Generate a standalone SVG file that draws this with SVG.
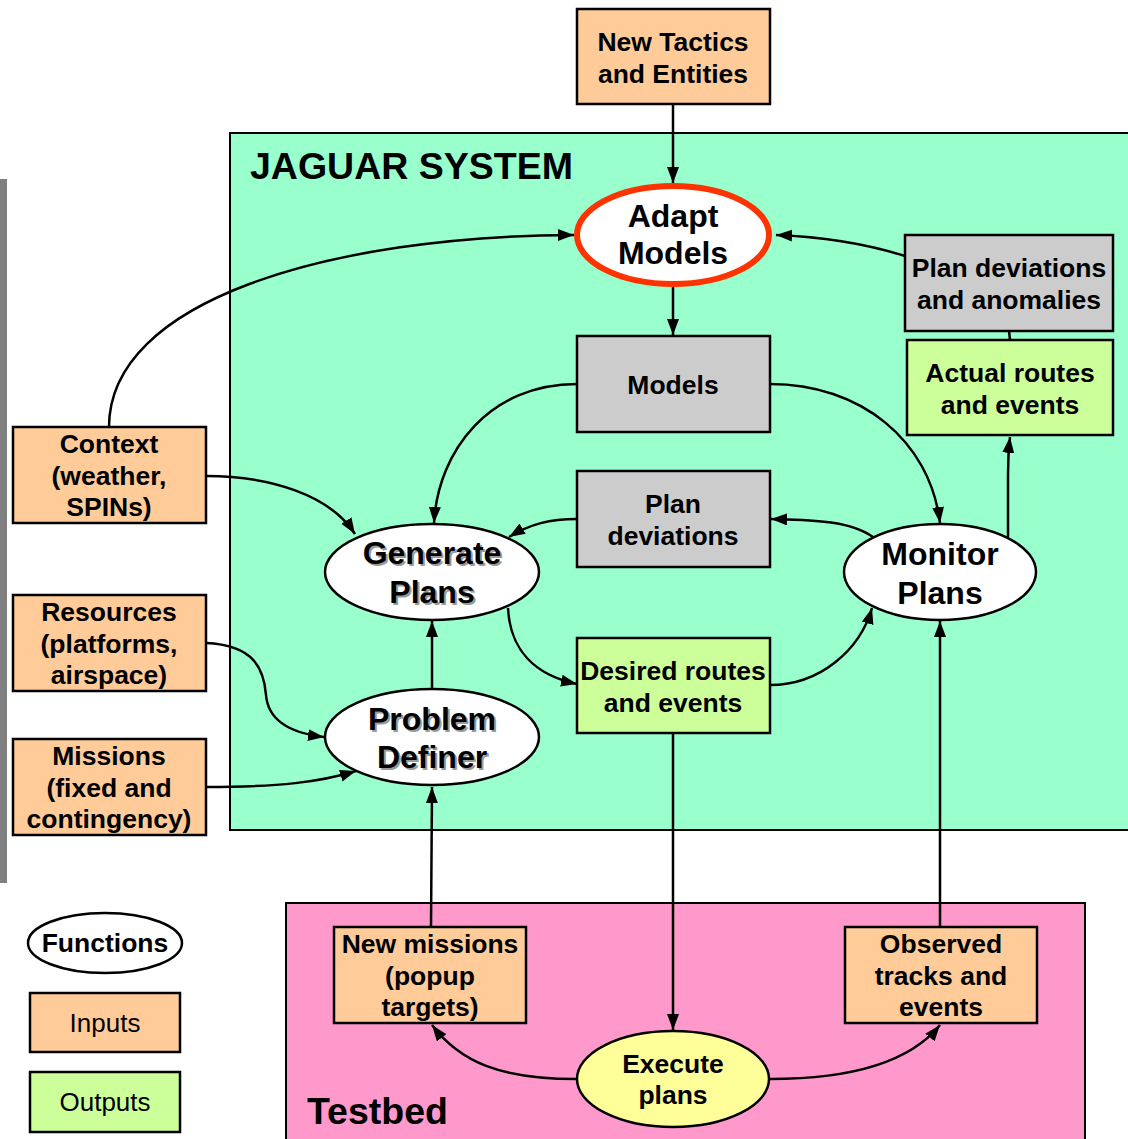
<svg xmlns="http://www.w3.org/2000/svg" width="1128" height="1139" viewBox="0 0 1128 1139">
<style>
text{font-family:"Liberation Sans",Arial,sans-serif;font-weight:bold;fill:#000;text-anchor:middle}
.box{stroke:#000;stroke-width:2.5}
.in{fill:#FFCC99}
.out{fill:#CCFF99}
.gray{fill:#CCCCCC}
.ell{fill:#fff;stroke:#000;stroke-width:2.5}
.t26{font-size:26.5px}
.t31{font-size:32px}
.sh{fill:#9a9a9a}
.c{fill:none;stroke:#000;stroke-width:2.5}
.a{marker-end:url(#arr)}
.leg{font-size:26px;font-weight:normal}
</style>
<defs>
<marker id="arr" markerUnits="userSpaceOnUse" markerWidth="18" markerHeight="14" refX="16" refY="6" orient="auto">
<path d="M0,0 L16,6 L0,12 z" fill="#000"/>
</marker>
</defs>
<rect width="1128" height="1139" fill="#fff"/>
<rect x="0" y="179" width="7" height="704" fill="#808080"/>
<g id="jaguar-system">
<rect x="230" y="133" width="905" height="697" fill="#99FFCC" stroke="#000" stroke-width="2"/>
<text x="250" y="179" style="font-size:37.5px;text-anchor:start">JAGUAR SYSTEM</text>
</g>
<g id="testbed">
<rect x="286" y="903" width="799" height="245" fill="#FF99CC" stroke="#000" stroke-width="2"/>
<text x="307" y="1124" style="font-size:37.5px;text-anchor:start">Testbed</text>
</g>
<g id="connectors">
<path class="c a" d="M673,104 L673,183"/>
<path class="c a" d="M109,427 C109,300 330,236 574,235"/>
<path class="c a" d="M905,256 C870,245 830,237 776,235"/>
<path class="c a" d="M673,286 L673,335"/>
<path class="c a" d="M577,384 C490,384 438,450 434,523"/>
<path class="c a" d="M770,384 C860,384 930,440 940,523"/>
<path class="c a" d="M1008,537 L1008,475 Q1008,455 1010,437"/>
<path class="c a" d="M873,537 C850,520 810,520 771,519"/>
<path class="c a" d="M577,519 C550,519 530,524 509,537"/>
<path class="c a" d="M206,476 C270,476 330,495 355,534"/>
<path class="c a" d="M508,608 C510,650 535,675 577,684"/>
<path class="c a" d="M770,685 C820,685 860,650 872,608"/>
<path class="c a" d="M432,689 L432,621"/>
<path class="c a" d="M206,643 C255,645 264,670 266,695 C268,720 290,733 324,737"/>
<path class="c a" d="M206,787 C280,787 320,782 356,771"/>
<path class="c a" d="M431,927 L432,787"/>
<path class="c a" d="M673,733 L673,1030"/>
<path class="c a" d="M940,927 L940,621"/>
<path class="c a" d="M577,1079 C500,1079 460,1062 432,1025"/>
<path class="c a" d="M770,1079 C850,1079 910,1062 940,1025"/>
<path class="c" d="M1009,331 L1010,340"/>
</g>
<g id="new-tactics">
<rect class="box in" x="577" y="9" width="193" height="95"/>
<text class="t26" x="673" y="51">New Tactics</text>
<text class="t26" x="673" y="83">and Entities</text>
</g>
<g id="adapt-models">
<ellipse cx="673" cy="235" rx="96" ry="49" fill="#fff" stroke="#FF3300" stroke-width="6"/>
<text class="t31" x="673" y="227">Adapt</text>
<text class="t31" x="673" y="264">Models</text>
</g>
<g id="plan-deviations-anomalies">
<rect class="box gray" x="905" y="235" width="208" height="96"/>
<text class="t26" x="1009" y="277">Plan deviations</text>
<text class="t26" x="1009" y="309">and anomalies</text>
</g>
<g id="actual-routes">
<rect class="box out" x="907" y="340" width="206" height="95"/>
<text class="t26" x="1010" y="382">Actual routes</text>
<text class="t26" x="1010" y="414">and events</text>
</g>
<g id="models">
<rect class="box gray" x="577" y="336" width="193" height="96"/>
<text class="t26" x="673" y="394">Models</text>
</g>
<g id="plan-deviations">
<rect class="box gray" x="577" y="471" width="193" height="96"/>
<text class="t26" x="673" y="513">Plan</text>
<text class="t26" x="673" y="545">deviations</text>
</g>
<g id="desired-routes">
<rect class="box out" x="577" y="638" width="193" height="95"/>
<text class="t26" x="673" y="680">Desired routes</text>
<text class="t26" x="673" y="712">and events</text>
</g>
<g id="generate-plans">
<ellipse class="ell" cx="432" cy="572" rx="107" ry="48"/>
<text class="t31 sh" x="434" y="566">Generate</text>
<text class="t31 sh" x="434" y="605">Plans</text>
<text class="t31" x="432" y="564">Generate</text>
<text class="t31" x="432" y="603">Plans</text>
</g>
<g id="monitor-plans">
<ellipse class="ell" cx="940" cy="572" rx="96" ry="48"/>
<text class="t31" x="940" y="565">Monitor</text>
<text class="t31" x="940" y="604">Plans</text>
</g>
<g id="problem-definer">
<ellipse class="ell" cx="432" cy="737" rx="107" ry="48"/>
<text class="t31 sh" x="434" y="732">Problem</text>
<text class="t31 sh" x="434" y="770">Definer</text>
<text class="t31" x="432" y="730">Problem</text>
<text class="t31" x="432" y="768">Definer</text>
</g>
<g id="context">
<rect class="box in" x="13" y="427" width="193" height="96"/>
<text class="t26" x="109" y="453">Context</text>
<text class="t26" x="109" y="485">(weather,</text>
<text class="t26" x="109" y="516">SPINs)</text>
</g>
<g id="resources">
<rect class="box in" x="13" y="595" width="193" height="96"/>
<text class="t26" x="109" y="621">Resources</text>
<text class="t26" x="109" y="653">(platforms,</text>
<text class="t26" x="109" y="684">airspace)</text>
</g>
<g id="missions">
<rect class="box in" x="13" y="739" width="193" height="96"/>
<text class="t26" x="109" y="765">Missions</text>
<text class="t26" x="109" y="797">(fixed and</text>
<text class="t26" x="109" y="828">contingency)</text>
</g>
<g id="new-missions">
<rect class="box in" x="334" y="927" width="192" height="96"/>
<text class="t26" x="430" y="953">New missions</text>
<text class="t26" x="430" y="985">(popup</text>
<text class="t26" x="430" y="1016">targets)</text>
</g>
<g id="observed">
<rect class="box in" x="845" y="927" width="192" height="96"/>
<text class="t26" x="941" y="953">Observed</text>
<text class="t26" x="941" y="985">tracks and</text>
<text class="t26" x="941" y="1016">events</text>
</g>
<g id="execute-plans">
<ellipse cx="673" cy="1079" rx="96" ry="48" fill="#FFFF99" stroke="#000" stroke-width="2.5"/>
<text class="t26" x="673" y="1073">Execute</text>
<text class="t26" x="673" y="1104">plans</text>
</g>
<g id="legend">
<ellipse class="ell" cx="105" cy="943" rx="77" ry="30"/>
<text class="t26" x="105" y="952">Functions</text>
<rect class="box in" x="30" y="993" width="150" height="59"/>
<text class="leg" x="105" y="1032">Inputs</text>
<rect class="box out" x="30" y="1072" width="150" height="60"/>
<text class="leg" x="105" y="1111">Outputs</text>
</g>
</svg>
